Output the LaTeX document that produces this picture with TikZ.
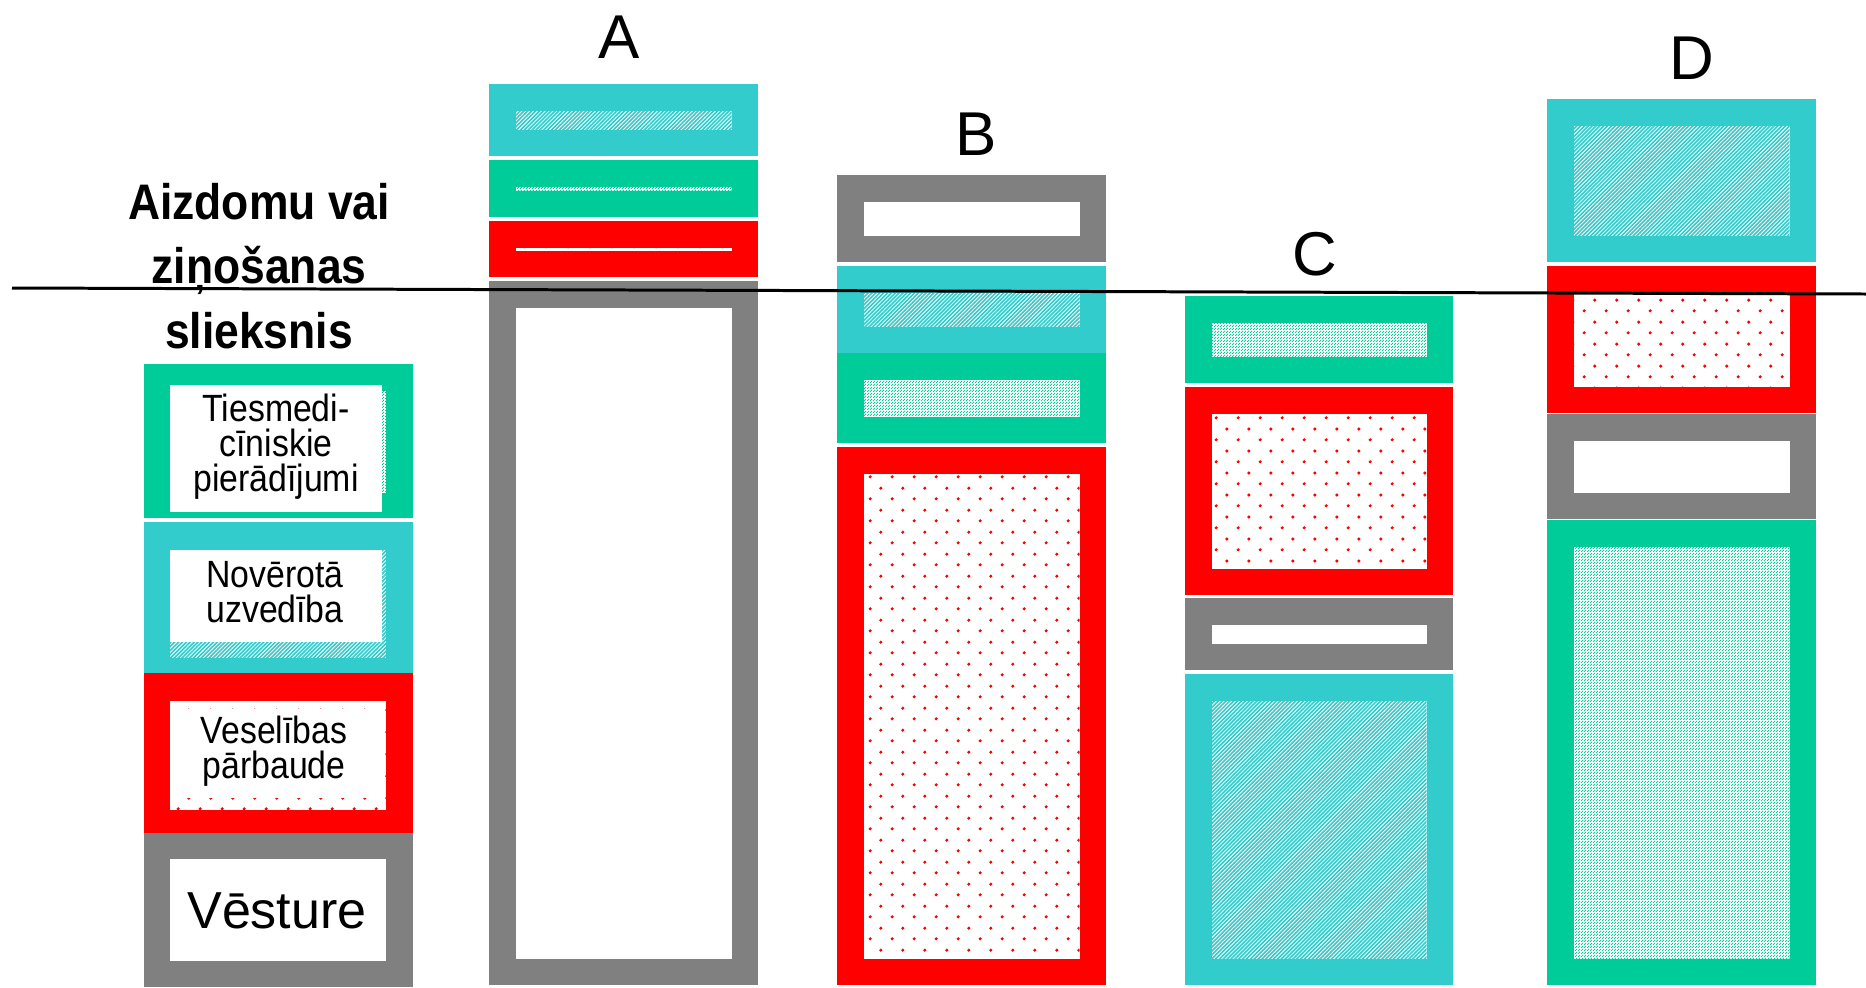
\documentclass[tikz,border=0pt]{standalone}
\usepackage{fontspec}
\setmainfont{Liberation Sans}
\newfontfamily\narrowsans[FakeStretch=0.89]{Liberation Sans}
\usetikzlibrary{patterns}

\definecolor{histgray}{HTML}{808080}
\definecolor{examred}{HTML}{FF0000}
\definecolor{behavcyan}{HTML}{33CCCC}
\definecolor{forensgreen}{HTML}{00CC99}

\pgfdeclarepatternformonly{finehatch}{\pgfqpoint{-0.1pt}{-0.1pt}}{\pgfqpoint{1.2pt}{1.2pt}}{\pgfqpoint{1.1pt}{1.1pt}}{%
  \pgfsetlinewidth{0.45pt}%
  \pgfpathmoveto{\pgfqpoint{-0.1pt}{-0.1pt}}%
  \pgfpathlineto{\pgfqpoint{1.2pt}{1.2pt}}%
  \pgfusepath{stroke}}
\pgfdeclarepatternformonly{finechecker}{\pgfpointorigin}{\pgfqpoint{0.7pt}{0.7pt}}{\pgfqpoint{0.7pt}{0.7pt}}{%
  \pgfpathrectangle{\pgfpointorigin}{\pgfqpoint{0.4pt}{0.4pt}}%
  \pgfpathrectangle{\pgfqpoint{0.35pt}{0.35pt}}{\pgfqpoint{0.35pt}{0.35pt}}%
  \pgfusepath{fill}}
\pgfdeclarepatternformonly{reddots}{\pgfpointorigin}{\pgfqpoint{6.15pt}{6.15pt}}{\pgfqpoint{6.15pt}{6.15pt}}{%
  \pgfpathcircle{\pgfqpoint{1.5pt}{1.5pt}}{0.5pt}%
  \pgfpathcircle{\pgfqpoint{4.575pt}{4.575pt}}{0.5pt}%
  \pgfusepath{fill}}

\begin{document}
\begin{tikzpicture}[x=0.01cm,y=-0.01cm,
    history/.style={fill=histgray},
    exam/.style={fill=examred},
    behaviour/.style={fill=behavcyan},
    forensic/.style={fill=forensgreen},
    history in/.style={fill=white},
    exam in/.style={preaction={fill=white},pattern=reddots,pattern color=examred},
    behaviour in/.style={preaction={fill=white},pattern=finehatch,pattern color=behavcyan},
    forensic in/.style={preaction={fill=white},pattern=finechecker,pattern color=forensgreen},
    legend text/.style={font=\narrowsans\fontsize{10.8}{9.96}\selectfont,align=center,inner sep=0pt},
    letter/.style={font=\fontsize{17.6}{20}\selectfont,anchor=base,inner sep=0pt}]
    \useasboundingbox (0,0) rectangle (1866,987);

    \fill[forensic] (144,364) rectangle (413,518);
    \path[forensic in] (170,391) rectangle (386,493);
    \fill[white] (170,385) rectangle (382,512);
    \node[legend text] (forensic label) at (276,447) {Tiesmedi-\\cīniskie\\pierādījumi};

    \fill[behaviour] (144,522) rectangle (413,673);
    \path[behaviour in] (170,550) rectangle (386,658);
    \fill[white] (170,550) rectangle (382,642);
    \node[legend text] (behaviour label) at (275,592) {Novērotā\\uzvedība};

    \fill[exam] (144,673) rectangle (413,833);
    \path[exam in] (170,701) rectangle (386,810);
    \fill[white] (170,709) rectangle (380,798);
    \node[legend text] (exam label) at (274,751) {Veselības\\pārbaude};

    \fill[history] (144,833) rectangle (413,987);
    \fill[history in] (170,859) rectangle (386,961);
    \node[font=\fontsize{14.8}{17}\selectfont,inner sep=0pt] (history label) at (277,911) {Vēsture};

    \fill[behaviour] (489,84) rectangle (758,156);
    \path[behaviour in] (515.5,110.5) rectangle (731.5,129.5);
    \fill[forensic] (489,160) rectangle (758,217);
    \path[forensic in] (515.5,186.5) rectangle (731.5,190.5);
    \fill[exam] (489,221) rectangle (758,277);
    \path[exam in] (515.5,247.5) rectangle (731.5,250.5);
    \fill[history] (489,281) rectangle (758,985);
    \path[history in] (515.5,307.5) rectangle (731.5,958.5);

    \fill[history] (837,175) rectangle (1106,262);
    \path[history in] (863.5,201.5) rectangle (1079.5,235.5);
    \fill[behaviour] (837,266) rectangle (1106,353);
    \path[behaviour in] (863.5,292.5) rectangle (1079.5,326.5);
    \fill[forensic] (837,353) rectangle (1106,443);
    \path[forensic in] (863.5,379.5) rectangle (1079.5,416.5);
    \fill[exam] (837,447) rectangle (1106,985);
    \path[exam in] (863.5,473.5) rectangle (1079.5,958.5);

    \fill[forensic] (1185,296) rectangle (1453,383);
    \path[forensic in] (1211.5,322.5) rectangle (1426.5,356.5);
    \fill[exam] (1185,387) rectangle (1453,595);
    \path[exam in] (1211.5,413.5) rectangle (1426.5,568.5);
    \fill[history] (1185,598) rectangle (1453,670);
    \path[history in] (1211.5,624.5) rectangle (1426.5,643.5);
    \fill[behaviour] (1185,674) rectangle (1453,985);
    \path[behaviour in] (1211.5,700.5) rectangle (1426.5,958.5);

    \fill[behaviour] (1547,99) rectangle (1816,262);
    \path[behaviour in] (1573.5,125.5) rectangle (1789.5,235.5);
    \fill[exam] (1547,266) rectangle (1816,413);
    \path[exam in] (1573.5,292.5) rectangle (1789.5,386.5);
    \fill[history] (1547,414) rectangle (1816,519);
    \path[history in] (1573.5,440.5) rectangle (1789.5,492.5);
    \fill[forensic] (1547,520) rectangle (1816,985);
    \path[forensic in] (1573.5,546.5) rectangle (1789.5,958.5);

    \node[letter] (col a) at (619,58) {A};
    \node[letter] (col b) at (976,155) {B};
    \node[letter] (col c) at (1315,275) {C};
    \node[letter] (col d) at (1692,79) {D};

    \node[font=\narrowsans\bfseries\fontsize{14.2}{18.3}\selectfont,align=center,inner sep=0pt] (threshold label) at (259,266) {Aizdomu vai\\ziņošanas\\slieksnis};

    \coordinate (threshold start) at (12,288);
    \coordinate (threshold end) at (1866,294);
    \draw[line width=0.85pt] (threshold start) -- (threshold end);
\end{tikzpicture}
\end{document}
